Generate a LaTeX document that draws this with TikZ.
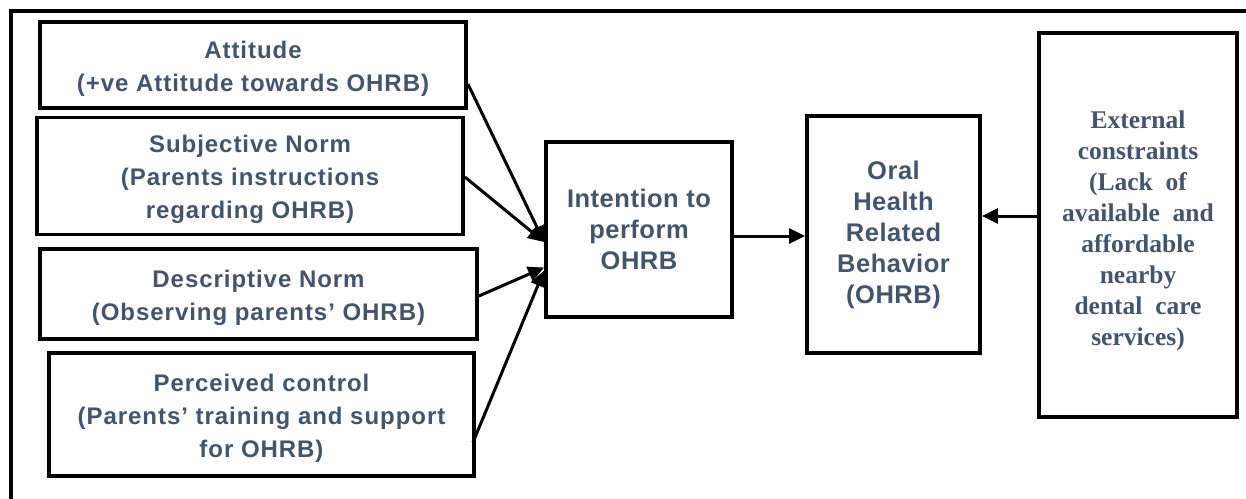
\documentclass[tikz,border=0pt]{standalone}
\usepackage{fontspec}
\setmainfont{Liberation Sans}
\newfontfamily\widesans[LetterSpace=4]{Liberation Sans}
\newfontfamily\midsans[LetterSpace=2]{Liberation Sans}
\newfontfamily\serifbold{Liberation Serif}
\usetikzlibrary{arrows.meta,calc}
\definecolor{txtslate}{HTML}{44546A}
\tikzset{
  factorbox/.style={draw=black, line width=3.8pt, fill=none, inner sep=0pt, align=center,
    text=txtslate, font=\widesans\bfseries\fontsize{24}{33}\selectfont},
  corebox/.style={factorbox, font=\midsans\bfseries\fontsize{25.5}{31}\selectfont},
  outerbox/.style={factorbox, font=\serifbold\bfseries\fontsize{25.5}{31}\selectfont},
  link/.style={line width=3pt, -{Triangle[length=16pt,width=15pt]}},
  frameline/.style={line width=4pt, line cap=rect}
}
\begin{document}
\begin{tikzpicture}[x=1pt,y=-1pt]
  \useasboundingbox (0,0) rectangle (1246,498);
  % page frame, open to the right and bottom
  \coordinate (fbl) at (11,498);
  \coordinate (ftl) at (11,11);
  \coordinate (ftr) at (1246,11);
  \draw[frameline] (fbl) -- (ftl) -- (ftr);

  % determinants on the left
  \node[factorbox, minimum width=426pt, minimum height=86pt] (att) at (253,65)
    {\rule{0pt}{24pt}Attitude\\(+ve Attitude towards OHRB)};
  \node[factorbox, minimum width=426pt, minimum height=117pt] (subj) at (250,176)
    {\rule{0pt}{24pt}Subjective Norm\\(Parents instructions\\regarding OHRB)};
  \node[factorbox, minimum width=437pt, minimum height=90pt] (desc) at (258.5,294)
    {\rule{0pt}{26pt}Descriptive Norm\\(Observing parents’ OHRB)};
  \node[factorbox, minimum width=425pt, minimum height=123pt] (perc) at (261.5,414.5)
    {\rule{0pt}{24pt}Perceived control\\(Parents’ training and support\\for OHRB)};

  % intention and behaviour
  \node[corebox, minimum width=186pt, minimum height=175pt] (intent) at (639,229.5)
    {Intention to\\perform\\OHRB};
  \node[corebox, minimum width=173pt, minimum height=237pt] (ohrb) at (893.5,234.5)
    {Oral\\Health\\Related\\Behavior\\(OHRB)};
  \node[outerbox, minimum width=198pt, minimum height=384pt] (ext) at (1138,225)
    {\rule{0pt}{30pt}External\\constraints\\(Lack\ \ of\\available\ \ and\\affordable\\nearby\\dental\ \ care\\services)};

  % connectors
  \draw[link] ([yshift=-19pt]att.east) -- ([yshift=-12.5pt]intent.west);
  \draw[link] ([yshift=-1pt]subj.east) -- ([yshift=-12.5pt]intent.west);
  \draw[link] ([yshift=-2pt]desc.east) -- ([yshift=-38pt]intent.west);
  \draw[link] ([xshift=-3pt,yshift=-28pt]perc.east) -- ([yshift=-41pt]intent.west);
  \draw[link] ([yshift=-6.5pt]intent.east) -- ([yshift=-1.5pt]ohrb.west);
  \draw[link] ([yshift=9pt]ext.west) -- ([yshift=18.5pt]ohrb.east);
\end{tikzpicture}
\end{document}
